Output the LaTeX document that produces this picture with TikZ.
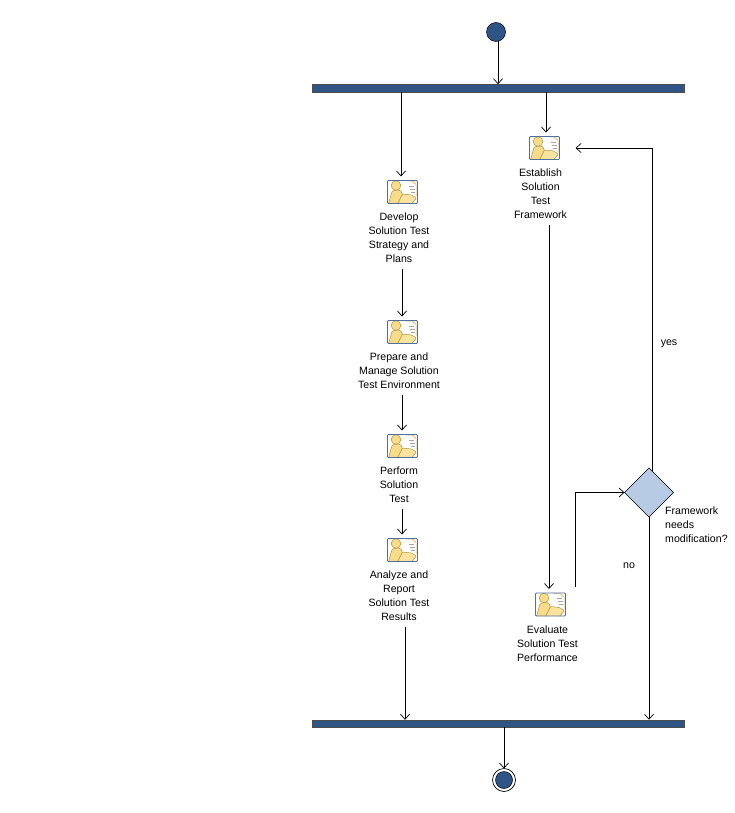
\documentclass[tikz,border=0pt]{standalone}
\usepackage{fontspec}
\setmainfont{Liberation Sans}
\usetikzlibrary{arrows.meta,shapes.geometric,calc}
\definecolor{navy}{HTML}{2F5586}
\definecolor{diamondfill}{HTML}{B7CCE4}
\definecolor{iconedge}{HTML}{4F7098}
\definecolor{figfill}{HTML}{F8DC8A}
\definecolor{figedge}{HTML}{B0923A}
\tikzset{
  flow/.style={draw=black,line width=0.7pt,-{Straight Barb[length=5pt,width=9pt]}},
  syncbar/.style={draw=black!70,line width=0.4pt,fill=navy,minimum width=372.5pt,minimum height=7.5pt,inner sep=0pt,outer sep=0pt},
  startdot/.style={circle,draw=black,line width=0.5pt,fill=navy,minimum size=19pt,inner sep=0pt,outer sep=0pt},
  enddot/.style={circle,draw=black,line width=0.5pt,fill=navy,minimum size=17pt,inner sep=0pt,outer sep=0pt},
  endring/.style={circle,draw=black,line width=0.7pt,minimum size=23pt,inner sep=0pt,outer sep=0pt},
  decision/.style={diamond,draw=black,line width=0.5pt,fill=diamondfill,minimum width=49pt,minimum height=49pt,inner sep=0pt,outer sep=0pt,aspect=1},
  lbl/.style={font=\fontsize{10.6}{14}\selectfont,align=center,inner sep=0pt,anchor=north},
  lblleft/.style={font=\fontsize{10.6}{14}\selectfont,align=left,inner sep=0pt},
  activity/.style={rectangle,rounded corners=1pt,draw=iconedge,line width=0.8pt,fill=white,minimum width=30pt,minimum height=23pt,inner sep=0pt,outer sep=0pt,
    path picture={
      \coordinate (c) at (path picture bounding box.center);
      % document
      \fill[white] ($(c)+(3,-11)$) -- ($(c)+(11,-11)$) -- ($(c)+(14,-8)$) -- ($(c)+(14,4)$) -- ($(c)+(3,4)$) -- cycle;
      \draw[figedge!70,line width=0.5pt] ($(c)+(3,-11)$) -- ($(c)+(10,-11)$) -- ($(c)+(13.5,-8)$) -- ($(c)+(13.5,4)$);
      \fill[figfill] ($(c)+(10,-11)$) -- ($(c)+(13.5,-8)$) -- ($(c)+(10,-8)$) -- cycle;
      \draw[black!35,line width=0.5pt] ($(c)+(6,-6)$) -- ($(c)+(11.5,-6)$) ($(c)+(7,-3)$) -- ($(c)+(12,-3)$) ($(c)+(8,0)$) -- ($(c)+(12,0)$);
      % person
      \fill[figfill,draw=figedge,line width=0.5pt] ($(c)+(-14,12)$) -- ($(c)+(-11,1)$) .. controls ($(c)+(-10,-2)$) and ($(c)+(-3,-3)$) .. ($(c)+(-1,0)$) -- ($(c)+(0,3)$) -- ($(c)+(-4,12)$) -- cycle;
      \fill[figfill,draw=figedge,line width=0.5pt] ($(c)+(-6.5,-6.5)$) circle (4.8pt);
      % book
      \fill[figfill!80!white,draw=figedge,line width=0.5pt] ($(c)+(-5,12)$) -- ($(c)+(0,2)$) -- ($(c)+(9,3)$) -- ($(c)+(14,6)$) -- ($(c)+(9,12)$) -- cycle;
    }}
}
\begin{document}
\begin{tikzpicture}[x=1pt,y=-1pt]
\useasboundingbox (0,0) rectangle (735,813);
\fill[white] (0,0) rectangle (735,813);

\node[startdot] (start) at (496,32) {};
\node[syncbar] (topbar) at (498.3,88) {};
\node[syncbar] (botbar) at (498.3,723.5) {};
\node[endring] (endo) at (504,780) {};
\node[enddot] (endi) at (504,780) {};

\node[activity] (devicon) at (402.5,192) {};
\node[lbl] (devtxt) at (399,213) {Develop\\Solution Test\\Strategy and\\Plans};
\node[activity] (preicon) at (402.5,332) {};
\node[lbl] (pretxt) at (399,353) {Prepare and\\Manage Solution\\Test Environment};
\node[activity] (pericon) at (402.5,446) {};
\node[lbl] (pertxt) at (399,467) {Perform\\Solution\\Test};
\node[activity] (anaicon) at (402.5,550) {};
\node[lbl] (anatxt) at (399,571) {Analyze and\\Report\\Solution Test\\Results};
\node[activity] (esticon) at (544.5,148) {};
\node[lbl] (esttxt) at (540.5,169) {Establish\\Solution\\Test\\Framework};
\node[activity] (evaicon) at (550.5,604.5) {};
\node[lbl] (evatxt) at (547.5,626) {Evaluate\\Solution Test\\Performance};
\node[decision] (dec) at (649,492.5) {};
\node[lblleft,anchor=north west] (dectxt) at (665,507) {Framework\\needs\\modification?};
\node[lblleft] (yes) at (669,343.5) {yes};
\node[lblleft] (no) at (629,566) {no};

\coordinate (decT) at (652,471);
\coordinate (decB) at (649,517);
\coordinate (evaOut) at (575.5,587);

\draw[flow] (start.south -| 498,0) -- (topbar.north -| 498,0);
\draw[flow,shorten >=4pt] (topbar.south -| 401,0) -- (devicon.north -| 401,0);
\draw[flow,shorten >=4pt] (topbar.south -| 546,0) -- (esticon.north -| 546,0);
\draw[flow,shorten >=4pt] (devtxt.south -| 402,0) ++(0,6) -- (preicon.north -| 402,0);
\draw[flow,shorten >=4pt] (pretxt.south -| 402,0) ++(0,6) -- (pericon.north -| 402,0);
\draw[flow,shorten >=4pt] (pertxt.south -| 402,0) ++(0,6) -- (anaicon.north -| 402,0);
\draw[flow] (anatxt.south -| 405,0) ++(0,6) -- (botbar.north -| 405,0);
\draw[flow,shorten >=4pt] (esttxt.south -| 549,0) ++(0,6) -- (evaicon.north -| 549,0);
\draw[flow] (evaOut) -- (575.5,492.5) -- (dec.west);
\draw[flow,shorten >=16pt] (decT) -- (652,148) -- (esticon.east);
\draw[flow] (decB) -- (botbar.north -| 649,0);
\draw[flow] (botbar.south -| 504,0) -- (endo.north);
\end{tikzpicture}
\end{document}
